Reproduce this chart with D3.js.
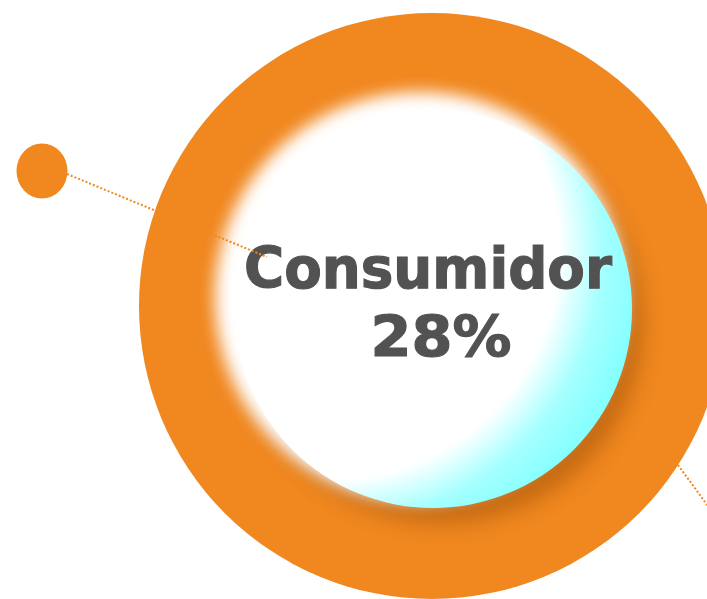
<!DOCTYPE html>
<html lang="en">
<head>
<meta charset="UTF-8">
<title>Consumidor</title>
<script src="https://d3js.org/d3.v7.min.js"></script>
<style>
  html, body { margin: 0; padding: 0; background: #fff; }
  svg { display: block; }
</style>
</head>
<body>
<div id="chart"></div>
<script>
// data
const labels = ["Consumidor"];
const shares = [0.28];
const orange = "#f0871f";

const width = 707, height = 599;
const cx = 432, cy = 306;
const discX = cx + 1, discY = cy + 3, discR = 199;

const svg = d3.select("#chart").append("svg")
    .attr("width", width)
    .attr("height", height)
    .attr("viewBox", [0, 0, width, height]);

const defs = svg.append("defs");

function blur(id, sd) {
    defs.append("filter")
        .attr("id", id)
        .attr("x", "-30%").attr("y", "-30%").attr("width", "160%").attr("height", "160%")
      .append("feGaussianBlur")
        .attr("stdDeviation", sd);
}
blur("glow", 8);
blur("shadow", 11);

// light comes from the upper left, cyan tint on the lower right
const grad = defs.append("radialGradient")
    .attr("id", "disc")
    .attr("gradientUnits", "userSpaceOnUse")
    .attr("cx", discX - 103).attr("cy", discY - 59).attr("r", 310);
grad.append("stop").attr("offset", "0%").attr("stop-color", "#ffffff");
grad.append("stop").attr("offset", "74%").attr("stop-color", "#ffffff");
grad.append("stop").attr("offset", "88%").attr("stop-color", "#a6ffff");
grad.append("stop").attr("offset", "100%").attr("stop-color", "#88ffff");

// outer ring
svg.append("circle")
    .attr("cx", cx).attr("cy", cy).attr("r", 293)
    .attr("fill", orange);

// shadow of the inner disc (lower right)
svg.append("circle")
    .attr("cx", discX + 10).attr("cy", discY + 14).attr("r", discR)
    .attr("fill", "#8a4200")
    .attr("opacity", 0.45)
    .attr("filter", "url(#shadow)");

// white glow
svg.append("circle")
    .attr("cx", cx - 12).attr("cy", cy - 9).attr("r", 205)
    .attr("fill", "#fff")
    .attr("filter", "url(#glow)");

// inner disc
svg.append("circle")
    .attr("cx", discX).attr("cy", discY).attr("r", discR)
    .attr("fill", "url(#disc)");

// small dot
svg.append("ellipse")
    .attr("cx", 42).attr("cy", 171)
    .attr("rx", 25.5).attr("ry", 27.5)
    .attr("fill", orange);

// label
const fmt = d3.format(".0%");
const txt = svg.append("g")
    .attr("fill", "#525252")
    .attr("stroke", "#525252")
    .attr("stroke-width", 1.2)
    .attr("font-family", "DejaVu Sans, Verdana, sans-serif")
    .attr("font-weight", "bold")
    .attr("font-size", 57)
    .attr("text-anchor", "middle");

txt.selectAll("text.name")
    .data(labels)
    .join("text")
    .attr("class", "name")
    .attr("x", cx - 4)
    .attr("y", cy - 18)
    .attr("textLength", 368)
    .attr("lengthAdjust", "spacingAndGlyphs")
    .text(d => d);

txt.selectAll("text.value")
    .data(shares)
    .join("text")
    .attr("class", "value")
    .attr("x", cx + 9)
    .attr("y", cy + 51)
    .attr("textLength", 141)
    .attr("lengthAdjust", "spacingAndGlyphs")
    .text(d => fmt(d));

// leader lines
const lines = svg.append("g")
    .attr("stroke", orange)
    .attr("stroke-width", 2)
    .attr("stroke-dasharray", "2,2")
    .attr("fill", "none");

lines.append("line")
    .attr("x1", 67).attr("y1", 174)
    .attr("x2", 267).attr("y2", 257);

lines.append("line")
    .attr("x1", 678).attr("y1", 465)
    .attr("x2", 740).attr("y2", 550);
</script>
</body>
</html>
